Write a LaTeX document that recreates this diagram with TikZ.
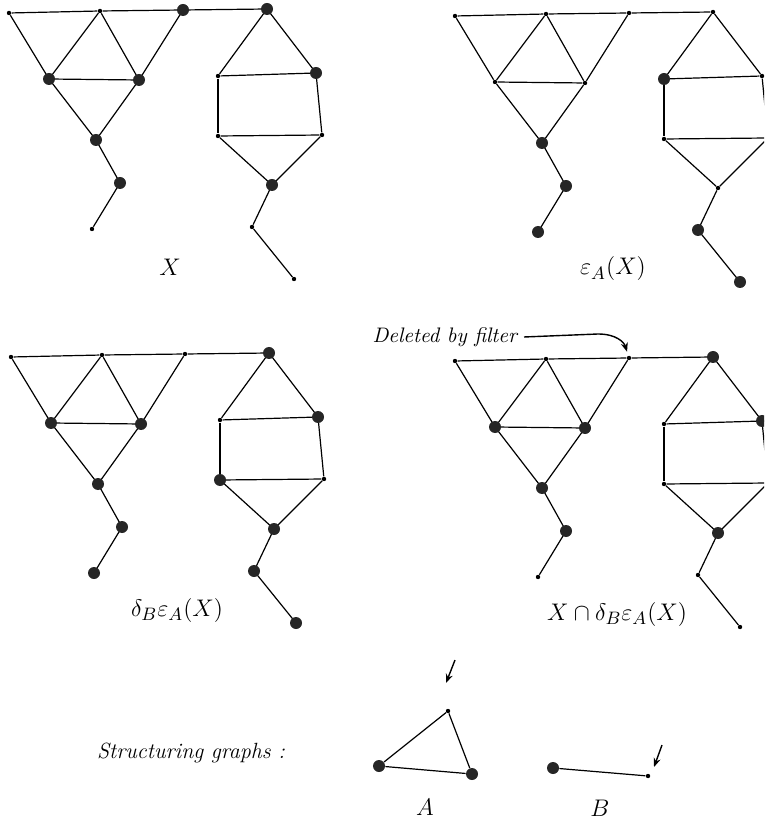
\documentclass[tikz,border=0pt]{standalone}
\usepackage{tikz}
\usetikzlibrary{arrows.meta,positioning}
\tikzset{
  smalldot/.style={circle, fill=black, draw=none, inner sep=0pt, minimum size=2.2pt},
  bigdot/.style={circle, fill=black!85, draw=none, inner sep=0pt, minimum size=6pt},
  edge/.style={line width=0.6pt},
  ptarrow/.style={-{Stealth[length=4.5pt,width=3.5pt]}, line width=0.7pt},
  caption/.style={font=\fontsize{13}{15}\selectfont},
  note/.style={font=\fontsize{10.5}{12}\selectfont\itshape},
}

% one copy of the graph: #1 = name prefix, #2 = shift, #3 = big vertices
\newcommand{\drawgraph}[3]{%
  \begin{scope}[shift={#2}]
    \foreach \n/\x/\y in {a1/9/13, a2/100/11, a3/183/10, a4/267/9,
      b1/49/79, b2/139/80, c/96/140, d/120/183, e/92/229,
      r1/218/76, r2/316/73, r3/218/136, r4/322/135, r5/272/185,
      r6/252/227, r7/294/279}
      \node[smalldot] (#1\n) at (\x,\y) {};
  \end{scope}
  \foreach \u/\v in {a1/a2, a2/a3, a3/a4, a1/b1, a2/b1, a2/b2, a3/b2, b1/b2,
    b1/c, b2/c, c/d, d/e, a4/r1, a4/r2, r1/r2, r1/r3, r2/r4, r3/r4,
    r3/r5, r4/r5, r5/r6, r6/r7}
    \draw[edge] (#1\u) -- (#1\v);
  \foreach \n in {#3}
    \node[bigdot] (#1\n-big) at (#1\n) {};
}

\begin{document}
\begin{tikzpicture}[x=0.5pt, y=-0.5pt]
  \useasboundingbox (0,0) rectangle (764,822);
  \clip (0,0) rectangle (764,822);

  % the four graphs
  \drawgraph{X}{(0,0)}{a3,a4,b1,b2,c,d,r2,r5}
  \drawgraph{E}{(446,3)}{c,d,e,r1,r6,r7}
  \drawgraph{D}{(2,344)}{a4,b1,b2,c,d,e,r2,r3,r5,r6,r7}
  \drawgraph{F}{(446,348)}{a4,b1,b2,c,d,r2,r5}

  \node[caption] (labX) at (170,267) {$X$};
  \node[caption] (labE) at (613,269) {$\varepsilon_A(X)$};
  \node[caption] (labD) at (177,610) {$\delta_B\varepsilon_A(X)$};
  \node[caption] (labF) at (617,614) {$X\cap\delta_B\varepsilon_A(X)$};

  % filter note
  \node[note, anchor=east] (deleted) at (524,337) {Deleted by filter};
  \draw[ptarrow, shorten >=2pt] (deleted.east) -- (598,334)
    .. controls (616,334) and (624,342) .. (Fa3);

  % structuring graphs
  \node[note, font=\fontsize{11}{13}\selectfont\itshape, anchor=east] (struct) at (292,753) {Structuring graphs :};

  \node[bigdot] (A1) at (379,766) {};
  \node[smalldot] (A2) at (448,711) {};
  \node[bigdot] (A3) at (472,774) {};
  \draw[edge] (A1) -- (A2) -- (A3) -- (A1);
  \coordinate (Atail) at (455,660);
  \coordinate (Atip) at (446,683);
  \draw[ptarrow] (Atail) -- (Atip);
  \node[caption] (labA) at (425,807) {$A$};

  \node[bigdot] (B1) at (553,768) {};
  \node[smalldot] (B2) at (648,776) {};
  \draw[edge] (B1) -- (B2);
  \coordinate (Btail) at (662,745);
  \coordinate (Btip) at (654,767);
  \draw[ptarrow] (Btail) -- (Btip);
  \node[caption] (labB) at (600,808) {$B$};
\end{tikzpicture}
\end{document}
